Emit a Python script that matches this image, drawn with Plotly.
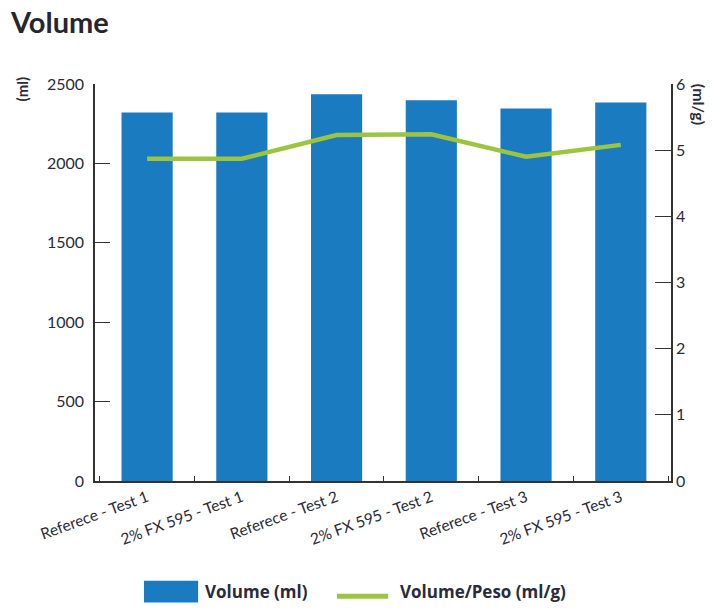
import plotly.graph_objects as go

categories = ["Referece - Test 1", "2% FX 595 - Test 1", "Referece - Test 2",
              "2% FX 595 - Test 2", "Referece - Test 3", "2% FX 595 - Test 3"]
volume_ml = [2320, 2320, 2435, 2397, 2345, 2383]
volume_peso = [4.87, 4.87, 5.23, 5.24, 4.90, 5.08]
left_ticks = [0, 500, 1000, 1500, 2000, 2500]
right_ticks = [0, 1, 2, 3, 4, 5, 6]
bar_name = "Volume (ml)"
line_name = "Volume/Peso (ml/g)"

FONT = "Lato"
TXT = "#2b2b3a"
BLUE = "#1a7bc0"
GREEN = "#9dc43f"

fig = go.Figure()
fig.add_trace(go.Bar(x=categories, y=volume_ml, name=bar_name,
                     marker=dict(color=BLUE, line=dict(width=0)),
                     width=0.54, yaxis="y", showlegend=False))
fig.add_trace(go.Scatter(x=categories, y=volume_peso, name=line_name,
                         mode="lines", line=dict(color=GREEN, width=4.5),
                         yaxis="y2", showlegend=False))

fig.update_layout(
    width=712, height=609,
    margin=dict(l=95, r=41, t=84, b=128),
    paper_bgcolor="white", plot_bgcolor="white",
    font=dict(family=FONT, color=TXT, size=15),
    showlegend=False,
    xaxis=dict(type="category", range=[-0.55, 5.53], showline=True, linecolor="#333",
               linewidth=1.5, ticks="inside", tickson="boundaries", ticklen=5,
               tickcolor="#333", tickangle=-20, tickfont=dict(size=15.5, color=TXT),
               showgrid=False, zeroline=False),
    yaxis=dict(range=[0, 2500], tickvals=left_ticks, showline=True, linecolor="#333",
               linewidth=1.5, ticks="inside", ticklen=15, tickcolor="#333",
               tickfont=dict(size=16, color=TXT), showgrid=False, zeroline=False,
               ticklabelstandoff=6),
    yaxis2=dict(range=[0, 6], tickvals=right_ticks, overlaying="y", side="right",
                showline=True, linecolor="#333", linewidth=1.5, ticks="inside",
                ticklen=16, tickcolor="#333", tickfont=dict(size=16, color=TXT),
                showgrid=False, zeroline=False),
    shapes=[
        dict(type="rect", xref="paper", yref="paper", x0=0.085, x1=0.179,
             y0=-0.306, y1=-0.251, fillcolor=BLUE, line=dict(width=0)),
        dict(type="line", xref="paper", yref="paper", x0=0.42, x1=0.509,
             y0=-0.29, y1=-0.29, line=dict(color=GREEN, width=5)),
    ],
    annotations=[
        dict(text="<b>Volume</b>", xref="paper", yref="paper", x=-0.151, y=1.157,
             xanchor="left", yanchor="middle", showarrow=False,
             font=dict(size=29, color="#262630", family=FONT)),
        dict(text="<b>(ml)</b>", xref="paper", yref="paper", x=-0.127, y=0.986,
             xanchor="center", yanchor="middle", showarrow=False, textangle=-90,
             font=dict(size=15, color=TXT, family=FONT)),
        dict(text="<b>(ml/g)</b>", xref="paper", yref="paper", x=1.05, y=0.948,
             xanchor="center", yanchor="middle", showarrow=False, textangle=90,
             font=dict(size=16, color=TXT, family=FONT)),
        dict(text="<b>" + bar_name + "</b>", xref="paper", yref="paper", x=0.1875, y=-0.279,
             xanchor="left", yanchor="middle", showarrow=False,
             font=dict(size=17, color=TXT, family="Open Sans")),
        dict(text="<b>" + line_name + "</b>", xref="paper", yref="paper", x=0.526, y=-0.279,
             xanchor="left", yanchor="middle", showarrow=False,
             font=dict(size=17, color=TXT, family="Open Sans")),
    ],
)

fig.write_html("out.html")
